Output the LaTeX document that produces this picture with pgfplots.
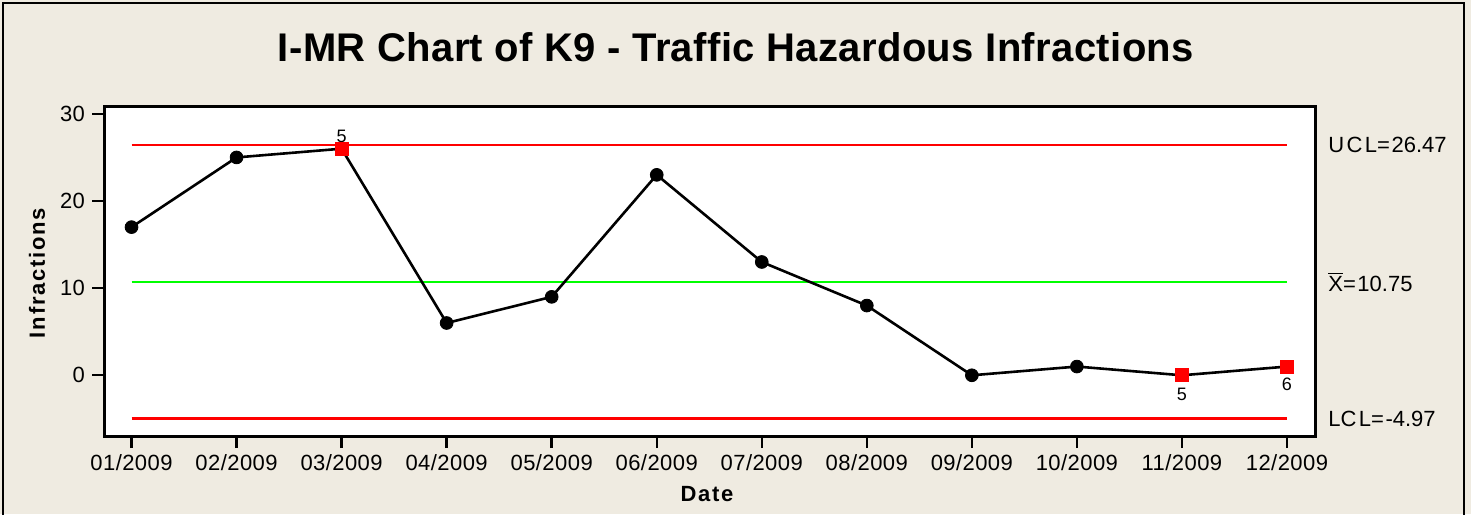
\documentclass[border=0pt]{standalone}
\usepackage{pgfplots}
\pgfplotsset{compat=1.18}
\usepackage{fontspec}
\setmainfont{Liberation Sans}
\definecolor{bgc}{RGB}{239,235,225}
\definecolor{gline}{RGB}{0,255,0}
\begin{document}
\begin{tikzpicture}[x=1bp,y=1bp]
\fill[bgc] (0,0) rectangle (735.5,-257);
\path[use as bounding box] (0,0) rectangle (735.5,-257);
\draw[line width=1bp] (1.6,-262) -- (1.6,-1.4) -- (732.2,-1.4) -- (732.2,-262);
\node[anchor=base,font=\fontsize{20bp}{24bp}\selectfont\bfseries\addfontfeature{LetterSpace=1}] at (368,-30.5) {I-MR Chart of K9 - Traffic Hazardous Infractions};
\node[anchor=base,font=\fontsize{11bp}{13bp}\selectfont\bfseries\addfontfeature{LetterSpace=8}] at (353.5,-250.5) {Date};
\node[rotate=90,font=\fontsize{11bp}{13bp}\selectfont\bfseries\addfontfeature{LetterSpace=8}] at (18.5,-136.5) {Infractions};
\begin{axis}[
  at={(52bp,-53bp)}, anchor=north west,
  scale only axis, width=605.5bp, height=165bp,
  xmin=0.738, xmax=12.267, ymin=-6.97, ymax=30.9,
  axis background/.style={fill=white},
  axis line style={line width=1.5bp},
  xtick={1,2,3,4,5,6,7,8,9,10,11,12},
  xticklabels={01/2009,02/2009,03/2009,04/2009,05/2009,06/2009,07/2009,08/2009,09/2009,10/2009,11/2009,12/2009},
  ytick={0,10,20,30},
  tick align=outside, major tick length=6bp,
  tick style={line width=1.2bp, black},
  xtick pos=left, ytick pos=left,
  ticklabel style={font=\fontsize{11bp}{13bp}\selectfont\addfontfeature{LetterSpace=2}},
  /pgf/number format/assume math mode=true,
  clip=false,
]
\addplot[red, line width=1.1bp, forget plot] coordinates {(1,26.47) (12,26.47)};
\addplot[gline, line width=1.1bp, forget plot] coordinates {(1,10.75) (12,10.75)};
\addplot[red, line width=1.1bp, forget plot] coordinates {(1,-4.97) (12,-4.97)};
\addplot[black, line width=1.3bp, mark=none] coordinates {
(1,17) (2,25) (3,26) (4,6) (5,9) (6,23) (7,13) (8,8) (9,0) (10,1) (11,0) (12,1)};
\addplot[only marks, mark=*, mark size=3.2bp, black] coordinates {
(1,17) (2,25) (4,6) (5,9) (6,23) (7,13) (8,8) (9,0) (10,1)};
\addplot[only marks, mark=square*, mark size=3.2bp, red] coordinates {
(3,26) (11,0) (12,1)};
\node[inner sep=0, font=\fontsize{9bp}{10bp}\selectfont, yshift=6bp] at (axis cs:3,26) {5};
\node[inner sep=0, font=\fontsize{9bp}{10bp}\selectfont, yshift=-9.5bp] at (axis cs:11,0) {5};
\node[inner sep=0, font=\fontsize{9bp}{10bp}\selectfont, yshift=-9bp] at (axis cs:12,1) {6};
\node[anchor=west, inner sep=0, font=\fontsize{11bp}{13bp}\selectfont] at (axis cs:12.39,26.47) {U\kern1.2bp C\kern1.2bp L=\kern0.8bp 26.47};
\node[anchor=west, inner sep=0, font=\fontsize{11bp}{13bp}\selectfont] at (axis cs:12.39,10.75) {$\overline{\hbox{X}}$=\kern0.8bp 10.75};
\node[anchor=west, inner sep=0, font=\fontsize{11bp}{13bp}\selectfont] at (axis cs:12.39,-4.97) {LC\kern1.2bp L=\kern0.8bp -4.97};
\end{axis}
\end{tikzpicture}
\end{document}
